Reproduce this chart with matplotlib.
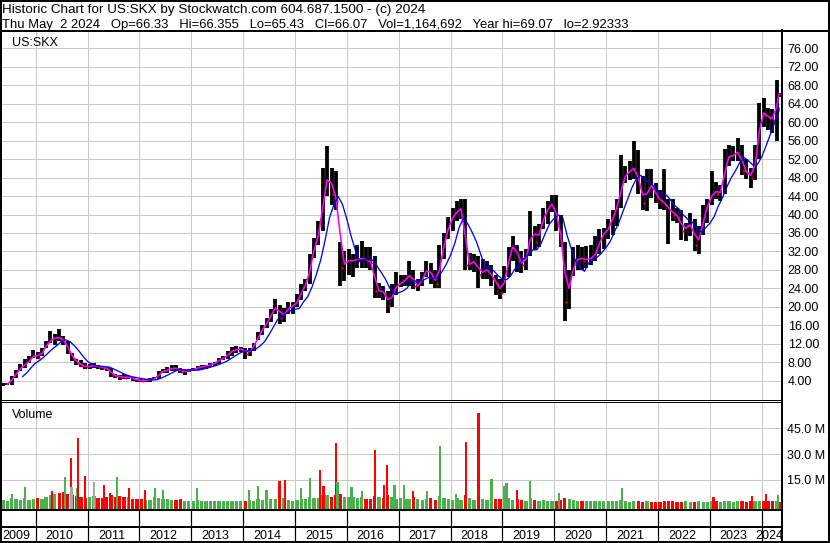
import numpy as np
import pandas as pd
import matplotlib
matplotlib.use("Agg")
import matplotlib.pyplot as plt
from matplotlib.patches import Rectangle
from matplotlib.lines import Line2D

plt.rcParams['font.family'] = ['Liberation Sans', 'DejaVu Sans']

# monthly bars, May 2009 .. May 2024 (last month = 2 trading days)
first_month = '2009-05-01'
last_day = '2024-05-02'

price_low = [
    2.92, 3.0, 3.1, 4.6, 6.0, 6.8, 7.9, 9.0,
    8.6, 9.3, 11.1, 12.2, 11.8, 12.5, 11.8, 9.8, 8.2, 7.4, 6.9, 6.6,
    6.6, 6.8, 6.6, 6.4, 6.2, 4.9, 4.7, 4.2, 4.3, 4.3, 4.0, 3.8,
    3.7, 3.8, 3.8, 4.1, 4.4, 5.6, 5.6, 6.0, 6.2, 5.6, 5.3, 5.9,
    6.0, 6.4, 6.5, 6.6, 7.0, 7.2, 7.6, 8.4, 8.8, 9.4, 10.0, 10.2,
    8.8, 9.4, 10.5, 12.8, 14.0, 15.5, 16.8, 18.5, 16.3, 16.8, 18.5, 18.5,
    20.0, 21.5, 23.5, 25.0, 30.5, 33.5, 36.5, 44.0, 42.0, 41.0, 24.5, 25.5,
    27.0, 26.5, 28.5, 28.5, 28.5, 28.0, 22.0, 22.0, 21.5, 18.7, 20.0, 22.5,
    24.2, 24.5, 24.5, 23.8, 23.5, 24.5, 26.5, 25.0, 24.0, 24.0, 30.3, 34.6,
    36.5, 38.5, 39.0, 28.0, 28.0, 27.5, 24.0, 26.0, 26.0, 24.5, 22.5, 21.6,
    23.0, 26.5, 30.0, 27.5, 27.4, 28.0, 31.0, 32.4, 33.0, 36.8, 38.0, 40.5,
    36.5, 33.0, 16.9, 19.5, 26.7, 28.0, 28.0, 28.5, 29.0, 29.9, 31.5, 32.5,
    34.6, 35.5, 37.5, 41.5, 46.9, 47.5, 47.6, 44.5, 41.0, 40.8, 43.5, 42.6,
    41.1, 41.0, 33.6, 38.5, 38.2, 34.5, 34.3, 35.4, 32.0, 31.4, 35.5, 38.2,
    42.0, 43.3, 43.0, 44.5, 50.5, 51.5, 51.5, 48.5, 47.6, 45.8, 47.5, 52.0,
    59.0, 58.4, 57.7, 55.9, 65.43,
]
price_high = [
    3.6, 3.6, 5.0, 6.4, 7.6, 8.6, 9.3, 10.6,
    10.2, 11.1, 12.6, 14.8, 14.2, 15.1, 13.6, 12.6, 10.0, 8.6, 8.4, 7.8,
    7.6, 7.9, 7.5, 7.2, 7.0, 6.8, 5.5, 5.3, 5.4, 5.2, 4.8, 4.4,
    4.3, 4.4, 4.6, 4.8, 6.2, 6.6, 6.9, 7.5, 7.4, 6.8, 6.3, 6.6,
    6.8, 7.2, 7.3, 7.5, 7.9, 8.0, 9.0, 9.3, 10.4, 11.2, 11.6, 11.4,
    11.0, 11.0, 12.2, 14.5, 16.0, 17.5, 19.5, 21.7, 20.5, 19.8, 21.0, 21.0,
    22.8, 25.0, 26.0, 31.5, 35.0, 38.5, 50.0, 54.9, 50.0, 49.5, 34.0, 32.0,
    32.5, 31.5, 33.5, 34.3, 33.0, 33.0, 31.0, 25.2, 24.5, 23.5, 25.0, 27.5,
    27.0, 27.0, 29.9, 28.0, 26.0, 27.5, 29.9, 29.5, 28.0, 33.5, 36.0, 39.5,
    41.5, 43.0, 43.3, 43.3, 31.7, 31.5, 31.0, 30.3, 30.0, 29.0, 27.0, 26.0,
    28.8, 33.0, 35.3, 33.5, 32.0, 32.5, 40.7, 37.5, 38.0, 41.5, 43.0, 44.3,
    44.3, 40.0, 34.0, 28.0, 33.0, 33.5, 33.0, 33.2, 33.5, 35.4, 36.8, 37.0,
    39.0, 41.0, 43.3, 53.0, 50.5, 51.5, 55.9, 54.0, 48.3, 49.8, 49.8, 46.9,
    45.4, 49.8, 43.3, 43.3, 41.5, 41.0, 38.2, 40.4, 39.0, 37.5, 42.0, 43.3,
    49.4, 47.0, 46.5, 54.1, 55.0, 54.8, 56.6, 55.0, 52.0, 50.0, 55.0, 64.2,
    65.3, 63.0, 62.8, 69.07, 66.36,
]
price_close = [
    3.2, 3.3, 4.8, 6.0, 7.2, 7.6, 8.7, 9.8,
    9.0, 10.8, 12.2, 13.0, 13.4, 13.2, 12.4, 10.2, 8.6, 7.9, 7.2, 7.0,
    7.2, 7.3, 7.0, 6.8, 6.6, 5.2, 5.0, 4.8, 4.7, 4.9, 4.3, 4.1,
    4.0, 4.1, 4.3, 4.5, 5.8, 6.2, 6.4, 6.8, 6.6, 5.9, 6.1, 6.2,
    6.5, 7.0, 7.0, 7.3, 7.6, 7.9, 8.8, 8.9, 10.2, 10.6, 10.8, 11.0,
    9.7, 10.8, 12.0, 14.3, 15.6, 17.0, 19.0, 20.5, 17.5, 19.0, 20.0, 20.3,
    21.5, 24.5, 24.8, 30.5, 34.0, 37.0, 46.0, 49.0, 44.5, 43.0, 28.5, 30.0,
    30.0, 30.0, 30.5, 30.5, 30.0, 29.5, 23.5, 23.5, 23.0, 20.2, 24.0, 24.6,
    25.5, 26.0, 27.5, 24.5, 24.5, 27.0, 28.5, 26.5, 25.0, 31.0, 35.0, 38.5,
    40.0, 41.0, 41.5, 29.0, 29.5, 30.0, 27.0, 28.0, 28.0, 26.0, 25.0, 23.0,
    27.5, 32.5, 33.5, 30.0, 29.0, 31.5, 37.5, 34.0, 37.0, 40.5, 41.5, 43.0,
    37.5, 34.0, 21.0, 27.0, 29.5, 31.0, 30.0, 30.5, 30.5, 32.0, 35.5, 36.0,
    37.5, 40.5, 42.0, 48.0, 48.5, 50.0, 50.0, 46.0, 42.5, 46.5, 46.0, 43.5,
    43.0, 42.0, 41.0, 40.0, 39.5, 36.5, 37.5, 38.0, 33.5, 35.5, 41.0, 42.5,
    45.5, 44.5, 45.0, 52.5, 52.5, 53.0, 54.0, 49.5, 49.0, 48.0, 53.5, 62.5,
    61.5, 61.0, 60.5, 66.2, 66.07,
]
# typical volume per month, millions
volume_m = [
    3.5, 3.0, 4.5, 4.0, 3.5, 4.5, 3.5, 4.0,
    4.5, 4.0, 5.0, 6.5, 7.0, 7.5, 8.0, 7.0, 6.0, 5.5, 5.0, 4.5,
    5.0, 5.5, 4.5, 4.5, 5.0, 6.0, 5.0, 5.5, 5.0, 5.0, 4.0, 4.0,
    4.0, 3.5, 3.5, 5.0, 4.5, 4.0, 4.0, 3.5, 3.5, 4.0, 3.0, 3.0,
    3.0, 3.5, 3.0, 3.0, 3.0, 2.5, 3.0, 2.5, 2.5, 3.0, 2.5, 2.5,
    3.0, 3.5, 3.0, 4.0, 3.5, 3.0, 4.0, 4.0, 4.5, 4.5, 3.5, 3.0,
    3.5, 4.0, 4.0, 5.0, 4.5, 4.5, 6.0, 6.0, 5.0, 6.5, 7.0, 5.0,
    5.0, 5.0, 4.5, 5.0, 4.0, 4.0, 5.5, 5.0, 4.5, 6.0, 5.0, 4.0,
    4.5, 4.0, 4.0, 5.0, 4.0, 3.5, 4.0, 4.5, 3.5, 5.5, 4.5, 4.0,
    3.5, 4.5, 3.5, 6.0, 4.5, 3.5, 5.0, 4.0, 3.5, 4.5, 4.0, 4.0,
    4.0, 4.5, 3.5, 4.0, 3.5, 3.0, 4.5, 3.5, 3.0, 3.5, 3.0, 2.5,
    3.0, 3.5, 4.5, 4.0, 3.5, 3.0, 3.0, 2.5, 2.5, 3.0, 2.5, 2.5,
    2.5, 2.5, 2.5, 3.5, 3.0, 2.0, 2.5, 2.5, 2.0, 2.5, 2.0, 2.0,
    2.0, 3.0, 2.5, 2.5, 2.0, 2.0, 2.5, 2.0, 2.0, 2.5, 2.0, 2.0,
    2.5, 2.5, 2.0, 3.0, 2.5, 2.0, 2.5, 2.5, 2.0, 2.5, 2.5, 3.0,
    2.5, 3.0, 2.5, 3.0, 2.0,
]
# single-day volume spikes (decimal year, millions, colour)
spike_year = [2009.54, 2009.79, 2010.31, 2010.57, 2010.68, 2010.69, 2010.80, 2010.82,
              2010.95, 2011.12, 2011.32, 2011.43, 2011.56, 2011.80, 2012.11, 2012.30,
              2012.46, 2013.11, 2014.12, 2014.28, 2014.45, 2014.70, 2014.81, 2015.12,
              2015.29, 2015.48, 2015.55, 2015.79, 2015.82, 2016.09, 2016.29, 2016.54,
              2016.72, 2016.78, 2016.92, 2017.10, 2017.28, 2017.54, 2017.80, 2018.10,
              2018.29, 2018.54, 2018.79, 2019.03, 2019.08, 2019.28, 2019.53, 2020.09,
              2021.31, 2023.07, 2023.81, 2024.08, 2024.31]
spike_vol = [6.9, 10.7, 8.8, 16.5, 27.6, 11.0, 10.2, 39.7,
             17.3, 14.0, 11.9, 7.3, 16.5, 10.2, 9.2, 10.2,
             9.2, 10.2, 9.2, 11.3, 9.2, 14.2, 15.0, 10.2,
             16.0, 20.8, 11.5, 36.7, 13.6, 10.7, 8.8, 32.4,
             12.1, 23.7, 12.1, 12.1, 8.8, 8.8, 34.7, 6.9,
             37.2, 54.0, 15.6, 11.5, 13.0, 9.2, 14.4, 7.3,
             10.2, 5.0, 5.7, 6.9, 6.3]
spike_color = ['g', 'g', 'r', 'g', 'r', 'k', 'g', 'r',
               'r', 'k', 'r', 'r', 'g', 'r', 'r', 'g',
               'g', 'g', 'g', 'g', 'g', 'r', 'r', 'g',
               'g', 'r', 'r', 'r', 'g', 'g', 'g', 'r',
               'r', 'r', 'g', 'g', 'r', 'g', 'g', 'g',
               'r', 'r', 'g', 'g', 'g', 'r', 'g', 'g',
               'g', 'r', 'r', 'r', 'g']

price_ticks = np.arange(4, 77, 4)
vol_ticks = [15, 30, 45]
years = np.arange(2009, 2025)

W, H = 830, 543
GREEN, RED, GRAY = '#4CB04C', '#FF0000', '#A8A8A8'
GRID = '#C8C8C8'
PX = 0.72  # one pixel in points


def dec_year(ts):
    ts = pd.Timestamp(ts)
    days = 366 if ts.is_leap_year else 365
    return ts.year + (ts.dayofyear - 1) / days


starts = pd.date_range(first_month, periods=len(price_close), freq='MS')
end = pd.Timestamp(last_day)
centers = np.array([dec_year(min(s + pd.Timedelta(days=14), end)) for s in starts])
ends = np.array([dec_year(min(s + pd.offsets.MonthBegin(1), end)) for s in starts])

close = pd.Series(price_close)
ma_fast = close.rolling(2).mean()
ma_slow = close.rolling(5).mean()
down = np.r_[False, np.diff(price_close) < 0]

# pixel -> data calibration
X0, X1 = 2009.350, 2024.387


def box(x0, y0, x1, y1):
    return [x0 / W, 1 - y1 / H, (x1 - x0) / W, (y1 - y0) / H]


fig = plt.figure(figsize=(W / 100, H / 100), dpi=100)
ax = fig.add_axes(box(2, 30.5, 781.8, 399.5))
axv = fig.add_axes(box(2, 401.5, 781.8, 510.2))
axd = fig.add_axes(box(2, 510.2, 781.8, 543))

# --- price panel
ax.set_xlim(X0, X1)
ax.set_ylim(-0.065, 79.86)
ax.set_xticks(years[1:])
ax.set_yticks(price_ticks)
ax.set_yticklabels([f'{v:.2f}' for v in price_ticks])
ax.grid(True, color=GRID, lw=PX)
ax.set_axisbelow(True)
ax.tick_params(length=0, labelbottom=False, labelleft=False, labelright=True,
               labelsize=9, pad=4.3)
ax.vlines(centers, price_low, price_high, color='black', lw=3.8 * PX)
ax.plot(centers[down] + 0.03, close[down], ls='none', marker='s', ms=2.2 * PX,
        mec='none', mfc=RED)
ax.plot(centers, ma_fast, color='#FF00FF', lw=1.6 * PX)
ax.plot(ends, ma_slow, color='#0000FF', lw=1.3 * PX)
ax.text(10 / 779.8, 1 - (45.7 - 30.5) / 369, 'US:SKX', transform=ax.transAxes,
        fontsize=9, va='baseline')

# --- volume panel
axv.set_xlim(X0, X1)
vlo = -2.56
axv.set_ylim(vlo, 60.64)
axv.set_xticks(years[1:])
axv.set_yticks(vol_ticks)
axv.set_yticklabels([f'{v:.1f} M' for v in vol_ticks])
axv.grid(True, color=GRID, lw=PX)
axv.set_axisbelow(True)
axv.tick_params(length=0, labelbottom=False, labelleft=False, labelright=True,
                labelsize=9, pad=3.6)
vcol = [RED if d else GREEN for d in down]
axv.bar(centers, np.array(volume_m) - vlo, bottom=vlo, width=0.75 / 12,
        color=vcol, lw=0)
cmap = {'g': GREEN, 'r': RED, 'k': GRAY}
axv.bar(spike_year, np.array(spike_vol) - vlo, bottom=vlo, width=0.042,
        color=[cmap[c] for c in spike_color], lw=0, antialiased=False)
axv.text(9.5 / 779.8, (417.7 - 401.5) / -108.7 + 1, 'Volume', transform=axv.transAxes,
         fontsize=9, va='baseline')

# --- date strip
axd.set_xlim(X0, X1)
axd.set_ylim(0, 1)
axd.set_xticks([])
axd.set_yticks([])
axd.vlines(years[1:], 0, 1, color='black', lw=PX * 1.2)
axd.axhline((543 - 526.9) / 32.8, color='black', lw=2 * PX)
for y in years:
    a, b = max(y, X0), min(y + 1, X1)
    axd.text((a + b) / 2 - 0.04, (543 - 539.3) / 32.8, str(y), ha='center',
             va='baseline', fontsize=9)

for a in (ax, axv, axd):
    a.spines['left'].set_visible(False)
    a.spines['right'].set_linewidth(2 * PX)
    a.set_facecolor('white')
ax.spines['top'].set_linewidth(2 * PX)
ax.spines['bottom'].set_linewidth(PX)
axv.spines['top'].set_linewidth(PX)
axv.spines['bottom'].set_linewidth(2 * PX)
axd.spines['top'].set_linewidth(2 * PX)
axd.spines['bottom'].set_visible(False)

# header
fig.add_artist(Line2D([0, 1], [1 - 30.5 / H] * 2, transform=fig.transFigure,
                      color='black', lw=2 * PX))
fig.add_artist(Rectangle((0, 0), 1, 1, transform=fig.transFigure, fill=False,
                         ec='black', lw=4 * PX))
fig.text(2 / W, 1 - 13.3 / H,
         'Historic Chart for US:SKX by Stockwatch.com 604.687.1500 - (c) 2024',
         fontsize=9.7, va='baseline')
fig.text(2 / W, 1 - 28 / H,
         'Thu May  2 2024   Op=66.33   Hi=66.355   Lo=65.43   Cl=66.07   '
         'Vol=1,164,692   Year hi=69.07   lo=2.92333',
         fontsize=9.35, va='baseline')

fig.savefig('out.png', dpi=100)
